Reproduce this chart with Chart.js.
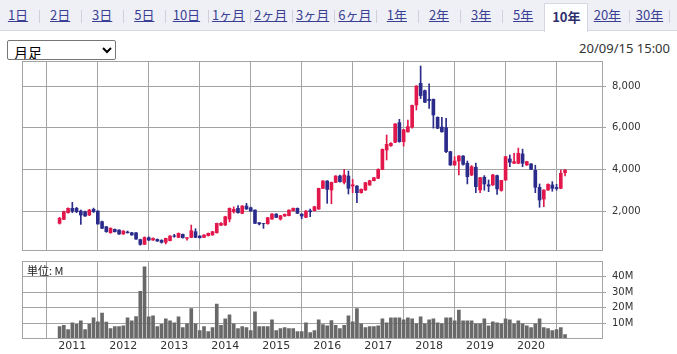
<!DOCTYPE html>
<html><head><meta charset="utf-8">
<script src="https://cdn.jsdelivr.net/npm/chart.js@4.4.0/dist/chart.umd.min.js"></script>
<style>
html,body{margin:0;padding:0;background:#fff;width:677px;height:354px;overflow:hidden;font-family:"Noto Sans CJK JP","Noto Sans",sans-serif;}
#tabs{position:absolute;left:0;top:0;width:677px;height:30px;background:#eff0f6;border-bottom:1px solid #d6d7e3;}
.tab{position:absolute;top:0;height:30px;width:42px;text-align:center;line-height:30px;font-size:13px;color:#3a3f94;text-decoration:underline;white-space:nowrap;}
.sep{position:absolute;top:10px;height:13px;width:1px;background:#cfd0da;}
.tab.active{top:3px;height:28px;line-height:25px;background:#fff;border:1px solid #d6d7e3;border-bottom:none;font-weight:bold;color:#2f2f6e;text-decoration:none;}
#sel{position:absolute;left:7px;top:40px;width:109px;height:20px;font-size:14px;font-family:"Noto Sans CJK JP",sans-serif;border:1px solid #767676;border-radius:2px;background:#fff;padding:0 2px;}
#ts{position:absolute;right:7px;top:39px;font-size:13px;color:#333;font-family:"Noto Sans","Noto Sans CJK JP",sans-serif;}
#pw{position:absolute;left:0;top:60px;width:677px;height:192px;}
#vw{position:absolute;left:0;top:255px;width:677px;height:99px;}
#unit{position:absolute;left:27px;top:262px;font-size:11px;color:#222;font-family:"Noto Sans CJK JP",sans-serif;}
</style></head>
<body>
<div id="tabs"></div>
<select id="sel"><option>月足</option></select>
<div id="ts">20/09/15 15:00</div>
<div id="pw"><canvas id="pc" width="677" height="192"></canvas></div>
<div id="vw"><canvas id="vc" width="677" height="99"></canvas></div>
<div id="unit">単位: M</div>
<script>
// ---- data (monthly, Oct 2010 .. Sep 2020) ----
const tabLabels = ['1日','2日','3日','5日','10日','1ヶ月','2ヶ月','3ヶ月','6ヶ月','1年','2年','3年','5年','10年','20年','30年'];
const activeTab = '10年';
const yearLabels = ['2011','2012','2013','2014','2015','2016','2017','2018','2019','2020'];
const priceTicks = [2000,4000,6000,8000];
const volumeTicks = [10,20,30,40];
const open = [
1410,1600,1920,2130,2130,2000,1966,1810,2080,2000,
1488,1248,958,1120,1090,896,992,958,958,630,
400,720,608,640,600,500,576,810,736,880,
690,736,1008,800,736,815,850,958,1320,1330,
1616,1966,2130,1890,2240,2160,2048,1440,1400,1390,
1616,1856,1616,1760,1776,2015,2130,1856,1696,2015,
2016,2096,3090,3440,3008,3376,3680,3376,3680,3200,
3200,2880,3008,3250,3456,3570,4000,4930,5136,5300,
6240,5330,5800,6030,7090,8130,7780,7360,7360,6500,
6030,6000,4850,4210,4400,4640,4290,3730,4100,3010,
3620,3260,3250,3700,2990,3490,4500,4290,4290,4740,
4210,4260,3950,3140,2576,3008,3250,3130,3090,3840];
const high = [
1700,2000,2150,2416,2180,2050,2000,2080,2140,2010,
1520,1260,1200,1140,1100,1060,1040,980,970,650,
760,760,720,660,620,700,820,880,950,900,
730,1328,1150,820,870,950,1030,1420,1440,1750,
2150,2200,2260,2260,2370,2190,2060,1450,1410,1700,
1880,1870,1790,1860,2060,2150,2150,1870,2020,2096,
2230,3100,3460,3460,3390,3700,3720,4000,3920,3520,
3220,3060,3380,3480,3620,4020,4980,5650,5280,6200,
6400,5920,6370,7080,8020,8960,7800,8100,7380,6520,
6500,6450,4870,4610,4660,4660,4400,4180,4300,3620,
3700,3490,3760,3720,3480,4620,4690,4770,5020,4970,
4390,4280,4200,3300,3020,3300,3410,3280,3970,3990];
const low = [
1376,1580,1900,1920,1920,1360,1740,1780,1930,1376,
1150,980,930,990,880,880,940,840,640,360,
390,580,590,540,460,420,560,740,720,700,
600,720,720,700,720,800,840,940,1300,1300,
1480,1900,1900,1870,2080,1990,1390,1330,1170,1370,
1600,1680,1568,1740,1760,2000,1880,1632,1680,1728,
2000,2080,3070,2370,2350,3360,3390,3300,2816,2880,
2400,2860,2990,3230,3440,3550,3980,4450,5100,5280,
5300,5120,5780,5980,6850,7400,7200,6930,5980,5950,
5780,4800,4190,4190,3730,4200,3300,3700,2880,2880,
3000,2930,3230,2800,2950,3470,4130,4270,4270,4130,
4190,3980,2880,2180,2210,2990,2950,3000,3070,3680];
const close = [
1650,1966,2130,2000,1970,1810,1760,2048,1966,1376,
1170,1008,1170,1008,896,1040,958,850,656,400,
730,608,690,560,500,690,800,790,930,720,
720,1056,736,720,850,930,1008,1410,1410,1728,
2130,2080,1920,2240,2096,2000,1410,1380,1390,1680,
1856,1696,1776,1840,2048,2130,1890,1760,2000,1970,
2208,3090,3440,3040,3376,3680,3408,3728,3090,3260,
2880,3040,3360,3456,3600,4000,4960,5200,5250,6180,
5330,5900,6050,7070,8000,7540,7220,7300,6610,5970,
5800,4850,4210,4400,4640,4240,3650,4130,3170,3600,
3300,3200,3730,3060,3470,4610,4340,4370,4770,4290,
4370,4000,3140,2530,3008,3280,3090,3080,3810,3970];
const volume = [
7.8,8.6,5.9,10.3,9.3,11.6,5.9,9.5,13.5,10.9,
16.6,10.7,6.5,7.8,7.8,8.4,13.5,11.6,14.3,30.5,
46.3,14.1,14.7,7.8,9.3,12.8,11.6,10.3,14.1,7.2,
9.7,19.4,9.7,5.3,7.8,4.6,7.2,22.3,8.6,12.8,
15.4,9.7,6.5,7.8,7.2,5.3,17.3,7.8,7.8,7.8,
12.2,5.3,6.5,7.2,6.5,6.5,4.6,4.6,10.3,4.0,
5.3,12.2,9.1,8.4,11.7,8.6,6.5,8.6,14.7,10.9,
19.4,9.7,7.2,7.8,7.8,8.4,12.8,10.3,13.5,13.5,
13.5,12.2,13.5,12.8,9.7,14.1,9.7,12.2,12.8,10.3,
9.7,13.5,13.5,11.6,18.5,11.6,11.6,11.6,9.7,9.7,
12.8,8.4,10.9,10.3,9.7,12.8,12.2,9.7,11.6,9.7,
8.4,7.2,9.7,12.8,7.2,6.5,5.3,5.9,7.2,2.7];
// month index 0 = Oct 2010; January of each labelled year is at index 3 + 12k

// ---- tabs ----
const tabsEl = document.getElementById('tabs');
tabLabels.forEach((t,i)=>{
  const left = -3 + 42.1*i;
  const d = document.createElement('div');
  d.className = 'tab' + (t===activeTab?' active':'');
  d.style.left = left + 'px';
  d.textContent = t;
  tabsEl.appendChild(d);
  if (i>0 && t!==activeTab && tabLabels[i-1]!==activeTab) {
    const s = document.createElement('div'); s.className='sep'; s.style.left = Math.round(left)+'px'; tabsEl.appendChild(s);
  }
});
{ const s=document.createElement('div'); s.className='sep'; s.style.left='669px'; tabsEl.appendChild(s); }

// ---- charts ----
const GRID = '#a3a3a3';
const RED = '#e2174b', BLUE = '#2b2b8c';
const idx = open.map((_,i)=>i);
const colors = idx.map(i => close[i] >= open[i] ? RED : BLUE);
const yearTickValues = yearLabels.map((_,k)=>3+12*k);
const XMIN = -8.85, XMAX = 127.7;

const frame = {id:'frame', afterDraw(c){
  const a=c.chartArea, x=c.ctx; x.save(); x.strokeStyle=GRID; x.lineWidth=1;
  const l=Math.floor(a.left)+0.5, t=Math.floor(a.top)+0.5, r=Math.floor(a.right)+0.5, b=Math.floor(a.bottom)+0.5;
  x.strokeRect(l,t,r-l,b-t); x.restore();
}};
const tickFont = {family:'DejaVu Sans', size:10};
function yAxisFit(s){ s.width = 75; s.paddingTop = 0; s.paddingBottom = 0; }
function xAxisFit(s){ s.paddingLeft = 0; s.paddingRight = 0; }

new Chart(document.getElementById('pc'), {
  type:'bar',
  data:{datasets:[
    {data: idx.map(i=>({x:i, y:[low[i], high[i]]})), backgroundColor: colors, barThickness:1, grouped:false, order:2},
    {data: idx.map(i=>({x:i, y:[open[i], close[i]]})), backgroundColor: colors, barThickness:3, grouped:false, order:1}
  ]},
  options:{
    responsive:false, animation:false, devicePixelRatio:1,
    layout:{padding:{left:22, top:1, bottom:2, right:0}},
    plugins:{legend:{display:false}, tooltip:{enabled:false}},
    scales:{
      x:{type:'linear', min:XMIN, max:XMAX, offset:false,
         afterBuildTicks(s){ s.ticks = yearTickValues.map(v=>({value:v})); },
         afterFit: xAxisFit,
         ticks:{display:false}, grid:{color:GRID, drawTicks:false}, border:{display:false}},
      y:{position:'right', min:130, max:9200,
         afterBuildTicks(s){ s.ticks = priceTicks.map(v=>({value:v})); },
         afterFit: yAxisFit,
         ticks:{font:tickFont, color:'#333', padding:6, callback:v=>v.toLocaleString('en-US')},
         grid:{color:GRID, tickLength:4}, border:{display:false}}
    }
  },
  plugins:[frame]
});

new Chart(document.getElementById('vc'), {
  type:'bar',
  data:{datasets:[
    {data: idx.map(i=>({x:i, y:volume[i]})), backgroundColor:'#696969', barThickness:3}
  ]},
  options:{
    responsive:false, animation:false, devicePixelRatio:1,
    layout:{padding:{left:22, top:6, bottom:0, right:0}},
    plugins:{legend:{display:false}, tooltip:{enabled:false}},
    scales:{
      x:{type:'linear', min:XMIN, max:XMAX, offset:false,
         afterBuildTicks(s){ s.ticks = yearTickValues.map(v=>({value:v})); },
         afterFit: xAxisFit,
         ticks:{font:{family:'DejaVu Sans', size:11}, color:'#333', padding:1, maxRotation:0, autoSkip:false,
                callback:(v)=>yearLabels[Math.round((v-3)/12)]},
         grid:{color:GRID, drawTicks:false}, border:{display:false}},
      y:{position:'right', min:0, max:50,
         afterBuildTicks(s){ s.ticks = volumeTicks.map(v=>({value:v})); },
         afterFit: yAxisFit,
         ticks:{font:tickFont, color:'#333', padding:6, callback:v=>v+'M'},
         grid:{color:GRID, tickLength:4}, border:{display:false}}
    }
  },
  plugins:[frame]
});
</script>
</body></html>
